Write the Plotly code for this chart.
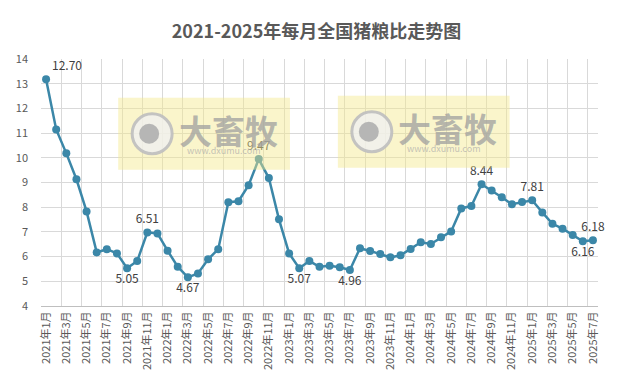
import plotly.graph_objects as go

months = [f"{y}年{m}月" for y in range(2021, 2026) for m in range(1, 13)][:55]

ratio = [13.18, 11.15, 10.18, 9.13, 7.83, 6.17, 6.30, 6.13, 5.53, 5.82,
         6.98, 6.94, 6.24, 5.59, 5.16, 5.32, 5.89, 6.30, 8.20, 8.24,
         8.89, 9.95, 9.18, 7.51, 6.13, 5.53, 5.82, 5.59, 5.63, 5.57,
         5.46, 6.34, 6.23, 6.11, 5.97, 6.05, 6.31, 6.58, 6.51, 6.78,
         7.02, 7.95, 8.05, 8.93, 8.68, 8.40, 8.12, 8.21, 8.28, 7.79,
         7.33, 7.13, 6.87, 6.62, 6.66]

label_idx = [0, 8, 10, 14, 21, 25, 30, 43, 48, 53, 54]
label_txt = ["12.70", "5.05", "6.51", "4.67", "9.47", "5.07", "4.96", "8.44", "7.81", "6.16", "6.18"]
label_pos = ["top right", "bottom center", "top center", "bottom center", "top center",
             "bottom center", "bottom center", "top center", "top center", "bottom center", "top center"]

text = [""] * len(ratio)
tpos = ["top center"] * len(ratio)
for i, t, p in zip(label_idx, label_txt, label_pos):
    text[i] = t
    tpos[i] = p

xs = list(range(len(ratio)))
tickvals = xs[::2]
ticktext = months[::2]

FONT = "Noto Sans CJK SC"
fig = go.Figure()
fig.add_trace(go.Scatter(
    x=xs, y=ratio, mode="lines+markers+text",
    line=dict(color="#3b87a8", width=2.5),
    marker=dict(color="#3b87a8", size=8),
    text=text, textposition=tpos,
    textfont=dict(family=FONT, size=12, color="#404040"),
    cliponaxis=False, hoverinfo="x+y"))

fig.update_layout(
    width=633, height=389, autosize=False,
    margin=dict(l=41, r=35, t=59, b=83),
    paper_bgcolor="white", plot_bgcolor="white",
    showlegend=False,
    title=dict(text="<b>2021-2025年每月全国猪粮比走势图</b>", x=0.5, xanchor="center",
               y=1 - 32 / 389, yanchor="middle",
               font=dict(family=FONT, size=18, color="#595959")),
    xaxis=dict(range=[-0.5, len(ratio) - 0.5], tickvals=tickvals, ticktext=ticktext,
               tickangle=-90, showgrid=False, zeroline=False,
               showline=True, linecolor="#bfbfbf", linewidth=1,
               ticks="", tickfont=dict(family=FONT, size=11, color="#595959"),
               minor=dict(tick0=-0.5, dtick=2, showgrid=True, gridcolor="#d9d9d9", gridwidth=1)),
    yaxis=dict(range=[4, 14], dtick=1, showgrid=True, gridcolor="#d9d9d9", gridwidth=1,
               zeroline=False, showline=False, ticks="", ticklabelstandoff=12,
               tickfont=dict(family=FONT, size=11, color="#595959")),
)

# watermarks
L, R, T, B = 40.7, 598.5, 59.3, 306.0
def px(x): return (x - L) / (R - L)
def py(y): return (B - y) / (B - T)

for (x0, y0, x1, y1) in [(118, 98, 290, 170), (338, 96, 510, 168)]:
    fig.add_shape(type="rect", xref="paper", yref="paper",
                  x0=px(x0), x1=px(x1), y0=py(y1), y1=py(y0),
                  fillcolor="rgba(244,232,140,0.45)", line_width=0, layer="above")
    cx, cy = x0 + 34, (y0 + y1) / 2
    fig.add_shape(type="circle", xref="paper", yref="paper", xsizemode="pixel", ysizemode="pixel",
                  xanchor=px(cx), yanchor=py(cy), x0=-20, x1=20, y0=-20, y1=20,
                  fillcolor="rgba(240,240,240,0.8)", line=dict(color="rgba(190,190,190,0.9)", width=3),
                  layer="above")
    fig.add_shape(type="circle", xref="paper", yref="paper", xsizemode="pixel", ysizemode="pixel",
                  xanchor=px(cx - 3), yanchor=py(cy), x0=-10, x1=10, y0=-10, y1=10,
                  fillcolor="rgba(175,175,175,0.9)", line_width=0, layer="above")
    fig.add_annotation(xref="paper", yref="paper", x=px(x0 + 110), y=py(cy - 4),
                       xanchor="center", yanchor="middle",
                       text="<b>大畜牧</b>", showarrow=False,
                       font=dict(family=FONT, size=33, color="rgba(160,160,160,0.75)"))
    fig.add_annotation(xref="paper", yref="paper", x=px(x0 + 106), y=py(cy + 17),
                       xanchor="center", yanchor="middle",
                       text="www.dxumu.com", showarrow=False,
                       font=dict(family=FONT, size=9, color="rgba(170,170,170,0.7)"))

fig.write_html("out.html")
